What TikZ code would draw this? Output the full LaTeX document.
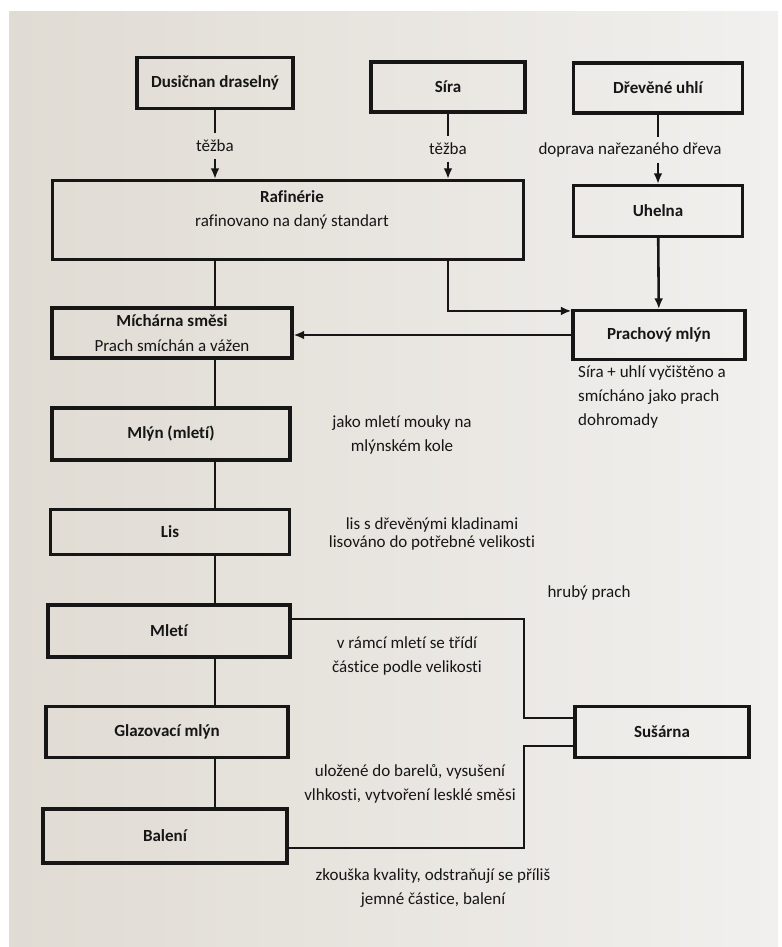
\documentclass[tikz,border=0pt]{standalone}
\usepackage{fontspec}
\setmainfont{Carlito}[Ligatures=NoCommon]
\usetikzlibrary{positioning}
\usetikzlibrary{arrows.meta}
\usetikzlibrary{calc}
\definecolor{ink}{RGB}{22,22,22}
\definecolor{paperl}{RGB}{224,219,211}
\definecolor{paperr}{RGB}{241,240,238}
\tikzset{
    procnode/.style = {rectangle, draw=ink, line width=2.7pt, inner sep=0pt, text=ink, font=\bfseries, align=center},
    notenode/.style = {text=ink, align=center, inner sep=0pt},
    gapnode/.style = {text=ink, inner sep=0pt, minimum height=0.75cm},
    edgen/.style = {draw=ink, line width=2.2pt},
    edgea/.style = {draw=ink, line width=2.2pt, -{Latex[length=9pt,width=7.5pt]}}, % arrow
}

\begin{document}
\fontsize{14.5}{20.8}\selectfont
\begin{tikzpicture}[x=0.03cm, y=-0.03cm]
\useasboundingbox (0,0) rectangle (782,947);
\fill[white] (0,0) rectangle (782,947);
\shade[left color=paperl, right color=paperr] (9,11) rectangle (778,947);
% sources
\node[procnode, minimum width=4.68cm, minimum height=1.53cm] at (215,83) (dus) {Dusičnan draselný};
\node[procnode, minimum width=4.62cm, minimum height=1.5cm] at (448,87) (sira) {Síra};
\node[procnode, minimum width=5.07cm, minimum height=1.5cm] at (658,88) (drev) {Dřevěné uhlí};
\node[gapnode] at (215,146) (tz1) {těžba};
\node[gapnode] at (448,149) (tz2) {těžba};
\node[gapnode] at (630,150) (dop) {doprava nařezaného dřeva};
%
\node[procnode, minimum width=14.13cm, minimum height=2.37cm] at (288,220) (raf) {};
\node[notenode] at (292,210) (raftext) {\textbf{Rafinérie}\\rafinovano na daný standart};
\node[procnode, minimum width=5.07cm, minimum height=1.53cm] at (658,211) (uhel) {Uhelna};
\node[procnode, minimum width=7.2cm, minimum height=1.5cm] at (172,333) (mich) {Míchárna směsi\\{\mdseries Prach smíchán a vážen}};
\node[procnode, minimum width=5.16cm, minimum height=1.47cm] at (659,335) (prach) {Prachový mlýn};
% main line
\node[procnode, minimum width=7.14cm, minimum height=1.56cm] at (171,434) (mlyn) {Mlýn (mletí)};
\node[procnode, minimum width=7.17cm, minimum height=1.35cm] at (170,532) (lis) {Lis};
\node[procnode, minimum width=7.26cm, minimum height=1.56cm] at (169,631) (mleti) {Mletí};
\node[procnode, minimum width=7.26cm, minimum height=1.53cm] at (167,732) (glaz) {Glazovací mlýn};
\node[procnode, minimum width=7.32cm, minimum height=1.62cm] at (165,836) (bal) {Balení};
\node[procnode, minimum width=5.22cm, minimum height=1.53cm] at (662,732) (sus) {Sušárna};
\coordinate (sjoin) at (524,732);
% notes
\node[notenode, align=left, anchor=north west] at (578,365) (n4) {Síra + uhlí vyčištěno a\\smícháno jako prach\\dohromady};
\node[notenode] at (402,435) (n1) {jako mletí mouky na\\mlýnském kole};
\node[notenode] at (432,534) (n2) {lis s dřevěnými kladinami\\[-5.5pt]lisováno do potřebné velikosti};
\node[notenode] at (589,593) (n3) {hrubý prach};
\node[notenode] at (407,656) (n5) {v rámcí mletí se třídí\\částice podle velikosti};
\node[notenode] at (410,784) (n6) {uložené do barelů, vysušení\\vlhkosti, vytvoření lesklé směsi};
\node[notenode] at (433,888) (n7) {zkouška kvality, odstraňují se příliš\\jemné částice, balení};
%
\draw[edgen] (dus) -- (tz1);
\draw[edgea] (tz1) -- (tz1 |- raf.north);
\draw[edgen] (sira) -- (tz2);
\draw[edgea] (tz2) -- (tz2 |- raf.north);
\draw[edgen] (drev) -- (dop.north -| drev);
\draw[edgea] (dop.south -| drev) -- (uhel);
\draw[edgea] (raf.south -| sira) |- ($(prach.north west)+(0,2)$);
\draw[edgea] (uhel) -- (prach);
\draw[edgea] (prach.west) -- (prach.west -| mich.east);
\foreach \a/\b in {raf/mich, mich/mlyn, mlyn/lis, lis/mleti, mleti/glaz, glaz/bal}
  \draw[edgen] (\a.south -| dus) -- (\b.north -| dus);
\draw[edgen] ($(mleti.east)+(0,-12)$) -| ($(sjoin)+(0,-14)$) -- ($(sus.west)+(0,-14)$);
\draw[edgen] ($(bal.east)+(0,12)$) -| ($(sjoin)+(0,14)$) -- ($(sus.west)+(0,14)$);

\end{tikzpicture}
\end{document}
